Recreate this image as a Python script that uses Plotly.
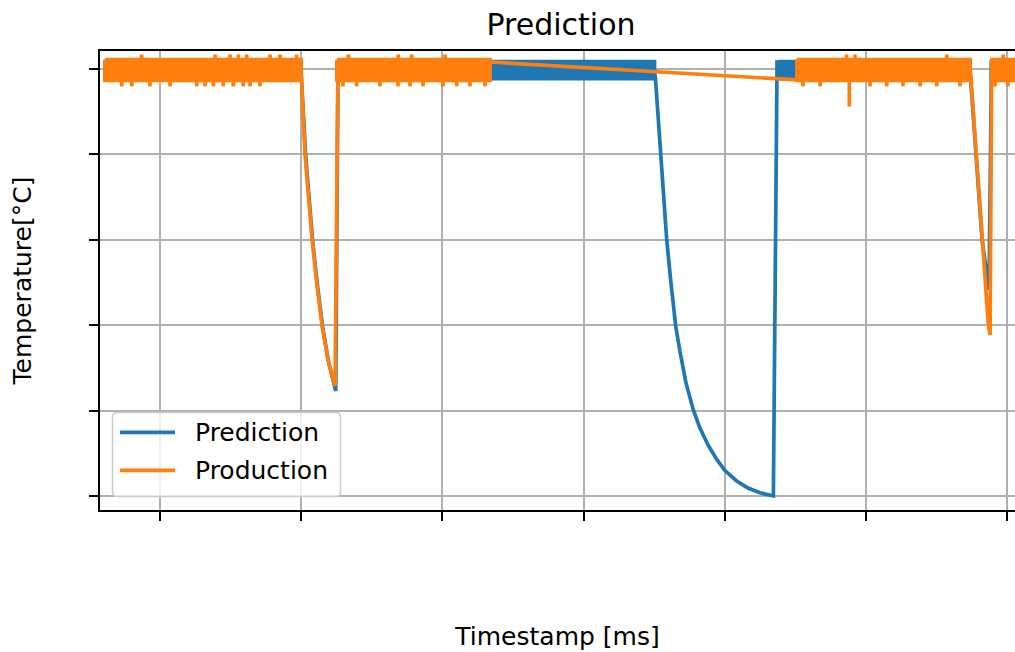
import plotly.graph_objects as go

# ---------------- data ----------------
# Production (measured): dense sampling windows summarised by their min/max envelope
prod_win_start = [-39.0, 125.4, 451.2, 589.4]
prod_win_end = [99.9, 233.8, 573.8, 612.0]
prod_win_high = [255.5, 255.5, 255.5, 255.5]
prod_win_low = [243.3, 243.3, 243.3, 243.3]

# Production trace through the cool-down events and the logging gap
prod_t = [-39.0, 99.9, 102.7, 105.0, 107.7, 111.1, 114.8, 119.0, 124.0, 126.1,
          233.8, 451.2, 573.8, 578.2, 582.5, 586.8, 588.0, 589.2, 612.0]
prod_v = [249.4, 249.4, 200.2, 174.5, 150.5, 124.1, 99.5, 79.6, 64.4, 254.1,
          254.1, 243.6, 251.8, 200.6, 150.3, 100.1, 94.3, 255.3, 249.4]

# Isolated outlier readings inside the dense windows
prod_spike_t = [-13.0, 39.0, 49.6, 55.5, 61.4, 77.9, 85.0, 96.8,
                -27.1, -20.0, -7.1, 7.1, 26.0, 31.9, 37.8, 44.8, 51.9, 59.0, 63.8, 70.8,
                133.4, 168.8, 178.3, 201.9,
                129.6, 139.3, 155.8, 168.6, 177.1, 186.3, 200.5, 210.2, 219.6, 230.2,
                486.4, 492.3, 557.3,
                455.5, 467.6, 503.0, 514.8, 526.3, 538.4, 550.2, 566.7, 488.3,
                597.4, 591.5, 600.7]
prod_spike_v = [258.5, 258.5, 258.5, 258.5, 258.5, 258.5, 258.5, 258.5,
                239.8, 239.8, 239.8, 239.8, 239.8, 239.8, 239.8, 239.8, 239.8, 239.8, 239.8, 239.8,
                258.5, 258.5, 258.5, 258.5,
                239.8, 239.8, 239.8, 239.8, 239.8, 239.8, 239.8, 239.8, 239.8, 239.8,
                258.5, 258.5, 258.5,
                239.8, 239.8, 239.8, 239.8, 239.8, 239.8, 239.8, 239.8, 228.0,
                258.5, 239.8, 239.8]
prod_level = 249.4

# Prediction (model output): min/max envelope of the fast oscillation
pred_win_start = [-39.0, 125.4, 438.0, 589.0]
pred_win_end = [99.9, 350.3, 573.8, 612.0]
pred_win_high = [254.4, 254.4, 254.4, 254.4]
pred_win_low = [244.4, 244.4, 244.4, 244.4]

# Prediction trace through the predicted cool-down curves
pred_t = [-39.0, 99.9, 103.1, 105.4, 108.0, 111.4, 115.1, 119.4, 124.5, 126.1,
          349.9, 351.0, 352.8, 354.7, 356.5, 358.9, 361.6, 365.3, 368.4, 372.6,
          377.8, 382.5, 388.2, 394.4, 400.2, 408.5, 416.5, 425.0, 434.5, 437.1,
          573.8, 578.0, 582.3, 587.3, 589.0, 612.0]
pred_v = [249.4, 249.4, 200.2, 174.5, 150.5, 124.1, 99.5, 78.5, 61.5, 254.1,
          249.4, 244.1, 223.1, 200.2, 179.2, 150.5, 127.6, 99.5, 84.3, 66.2,
          50.4, 39.8, 29.9, 21.4, 14.9, 8.8, 4.7, 1.9, 0.0, 254.1,
          249.4, 200.8, 150.5, 120.6, 254.1, 249.4]

x_ticks = [0, 100, 200, 300, 400, 500, 600]
y_ticks = [0, 50, 100, 150, 200, 250]
x_range = [-42.5, 605.66]
y_range = [-8.2, 260.54]

BLUE = "#1f77b4"
ORANGE = "#ff7f0e"
LW = 3.7
FONT = "DejaVu Sans"

# ---------------- layout geometry ----------------
W, H = 1015, 652
ML, MT, MB = 100, 51, 142
PW = W - ML
PH = H - MT - MB


def px_x(px):
    return (px - ML) / PW


def px_y(py):
    return (H - MB - py) / PH


def envelope(starts, ends, highs, lows):
    xs, ys = [], []
    for s, e, h, l in zip(starts, ends, highs, lows):
        xs += [s, e, e, s, s, None]
        ys += [h, h, l, l, h, None]
    return xs, ys


def spikes(ts, vs, base):
    xs, ys = [], []
    for t, v in zip(ts, vs):
        xs += [t, t, None]
        ys += [base, v, None]
    return xs, ys


fig = go.Figure()

# Prediction
bx, by = envelope(pred_win_start, pred_win_end, pred_win_high, pred_win_low)
fig.add_trace(go.Scatter(x=bx, y=by, mode="lines", fill="toself", fillcolor=BLUE,
                         line=dict(color=BLUE, width=LW), showlegend=False,
                         legendgroup="pred", hoverinfo="skip"))
fig.add_trace(go.Scatter(x=pred_t, y=pred_v, mode="lines", name="Prediction",
                         line=dict(color=BLUE, width=LW), showlegend=False,
                         legendgroup="pred"))

# Production
bx, by = envelope(prod_win_start, prod_win_end, prod_win_high, prod_win_low)
fig.add_trace(go.Scatter(x=bx, y=by, mode="lines", fill="toself", fillcolor=ORANGE,
                         line=dict(color=ORANGE, width=LW), showlegend=False,
                         legendgroup="prod", hoverinfo="skip"))
sx, sy = spikes(prod_spike_t, prod_spike_v, prod_level)
fig.add_trace(go.Scatter(x=sx, y=sy, mode="lines", line=dict(color=ORANGE, width=LW),
                         showlegend=False, legendgroup="prod", hoverinfo="skip"))
fig.add_trace(go.Scatter(x=prod_t, y=prod_v, mode="lines", name="Production",
                         line=dict(color=ORANGE, width=LW), showlegend=False,
                         legendgroup="prod"))

axis_common = dict(showticklabels=False, ticks="outside", ticklen=9, tickwidth=2,
                   tickcolor="black", showline=True, linewidth=2, linecolor="black",
                   showgrid=True, gridcolor="#b0b0b0", gridwidth=2, zeroline=False,
                   automargin=False)

fig.update_layout(
    width=W, height=H,
    margin=dict(l=ML, r=0, t=MT, b=MB, pad=0),
    paper_bgcolor="white", plot_bgcolor="white",
    font=dict(family=FONT, color="black"),
    showlegend=False,
    title=dict(text="Prediction", font=dict(size=30, family=FONT, color="black"),
               x=561 / W, xref="container", xanchor="center",
               y=1 - 24.5 / H, yref="container", yanchor="middle"),
    xaxis=dict(range=x_range, tickvals=x_ticks, mirror=True,
               title=dict(text="Timestamp [ms]", font=dict(size=25, family=FONT),
                          standoff=107),
               **axis_common),
    yaxis=dict(range=y_range, tickvals=y_ticks, mirror=False,
               title=dict(text="Temperature[°C]", font=dict(size=25, family=FONT),
                          standoff=50),
               **axis_common),
)

# Legend box (rounded, semi-transparent) with line samples and labels
x0, x1 = px_x(112.5), px_x(340.5)
y0, y1 = px_y(496.5), px_y(412.5)
rx, ry = 5 / PW, 5 / PH
box = (f"M {x0 + rx},{y0} L {x1 - rx},{y0} Q {x1},{y0} {x1},{y0 + ry} "
       f"L {x1},{y1 - ry} Q {x1},{y1} {x1 - rx},{y1} L {x0 + rx},{y1} "
       f"Q {x0},{y1} {x0},{y1 - ry} L {x0},{y0 + ry} Q {x0},{y0} {x0 + rx},{y0} Z")
fig.add_shape(type="path", path=box, xref="paper", yref="paper",
              fillcolor="rgba(255,255,255,0.8)", line=dict(color="#cccccc", width=1.5),
              layer="above")
legend_items = [("Prediction", BLUE, 432.3), ("Production", ORANGE, 470.3)]
for label, color, ypix in legend_items:
    fig.add_shape(type="line", xref="paper", yref="paper",
                  x0=px_x(120), x1=px_x(175), y0=px_y(ypix), y1=px_y(ypix),
                  line=dict(color=color, width=LW), layer="above")
    fig.add_annotation(text=label, xref="paper", yref="paper", x=px_x(193),
                       y=px_y(ypix), xanchor="left", yanchor="middle", showarrow=False,
                       font=dict(size=25, family=FONT, color="black"))

fig.write_html("out.html")
